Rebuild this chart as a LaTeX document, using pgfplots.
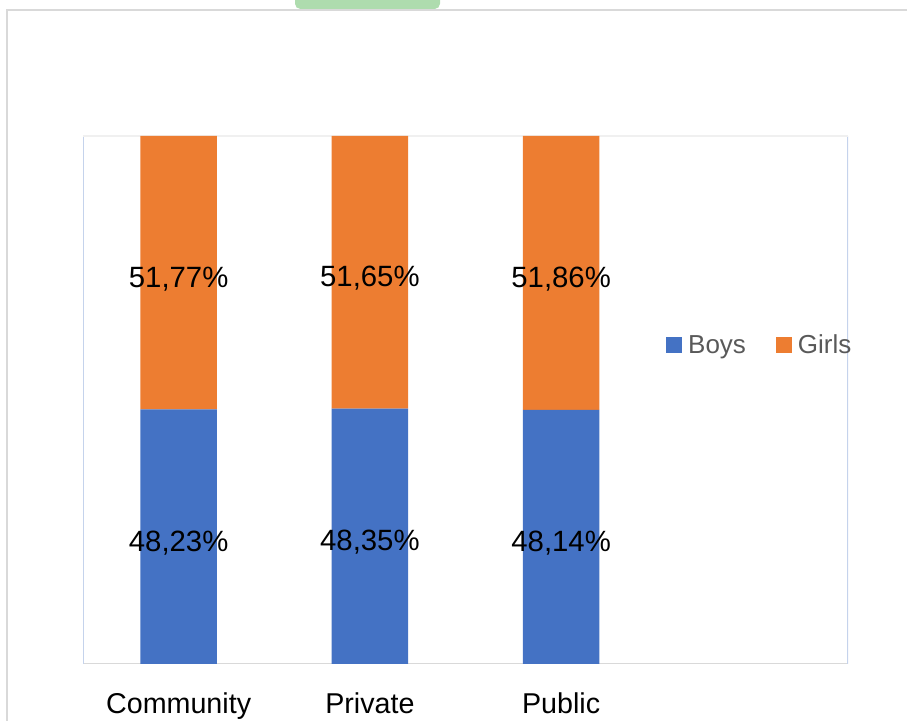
\documentclass[border=0pt]{standalone}
\usepackage{pgfplots}
\pgfplotsset{compat=1.18}
\usepackage{fontspec}
\setmainfont{Liberation Sans}
\definecolor{boys}{HTML}{4472C4}
\definecolor{girls}{HTML}{ED7D31}
\definecolor{framegray}{HTML}{D9D9D9}
\definecolor{axblue}{HTML}{C5D3EC}
\definecolor{legtext}{HTML}{595959}
\definecolor{topgreen}{HTML}{AEDCAE}
\tikzset{seglabel/.style={anchor=base, yshift=-10.9pt, font=\fontsize{22}{24}\selectfont}}

\begin{document}
\begin{tikzpicture}
% page is 907x721 px, 1px = 0.75pt
\useasboundingbox (0,0) rectangle (680.25pt,540.75pt);
% faint green mark at the top edge
\fill[topgreen, rounded corners=4pt] (221.25pt,545pt) -- (221.25pt,534pt) -- (330pt,534pt) -- (330pt,545pt) -- cycle;
% outer chart frame (cut off right and bottom)
\draw[framegray, line width=1.5pt] (5.25pt,0) -- (5.25pt,533.25pt) -- (680.25pt,533.25pt);

\begin{axis}[
    at={(62.25pt,42.75pt)}, anchor=south west,
    scale only axis,
    width=573.75pt, height=396pt,
    ybar stacked,
    bar width=0.4,
    xmin=-0.5, xmax=3.5,
    ymin=0, ymax=100,
    xtick={0,1,2},
    xticklabels={Community,Private,Public},
    ytick=\empty,
    major tick length=0pt,
    axis line style={draw=none},
    xticklabel style={font=\fontsize{21.5}{24}\selectfont, anchor=base, yshift=-37.5pt},
    legend columns=2,
    legend style={
        at={(0.762,0.604)}, anchor=west,
        draw=none, fill=none, inner sep=0pt,
        font=\fontsize{19.5}{22}\selectfont,
        text=legtext,
        nodes={inner sep=0pt},
        /tikz/every even column/.append style={column sep=22.5pt},
    },
    legend image code/.code={\fill[#1] (0pt,-6pt) rectangle (12pt,6pt);},
    after end axis/.code={
        % data labels in the middle of each segment, drawn over the bars
        \node[seglabel] at (axis cs:0,24.115) {48,23\%};
        \node[seglabel] at (axis cs:1,24.175) {48,35\%};
        \node[seglabel] at (axis cs:2,24.07) {48,14\%};
        \node[seglabel] at (axis cs:0,74.115) {51,77\%};
        \node[seglabel] at (axis cs:1,74.175) {51,65\%};
        \node[seglabel] at (axis cs:2,74.07) {51,86\%};
    },
]
\addplot[fill=boys, draw=none] coordinates {(0,48.23) (1,48.35) (2,48.14)};
\addplot[fill=girls, draw=none] coordinates {(0,51.77) (1,51.65) (2,51.86)};
\legend{\hspace{4.5pt}Boys, \hspace{4.5pt}Girls}

% plot area frame
\draw[black!6, line width=0.9pt] (rel axis cs:0,1) -- (rel axis cs:1,1);
\draw[axblue, line width=1.2pt] (rel axis cs:0,0) -- (rel axis cs:0,1);
\draw[axblue, line width=1.2pt] (rel axis cs:1,0) -- (rel axis cs:1,1);
\draw[framegray, line width=1.5pt] (rel axis cs:0,0) -- (rel axis cs:1,0);
\end{axis}
\end{tikzpicture}
\end{document}
